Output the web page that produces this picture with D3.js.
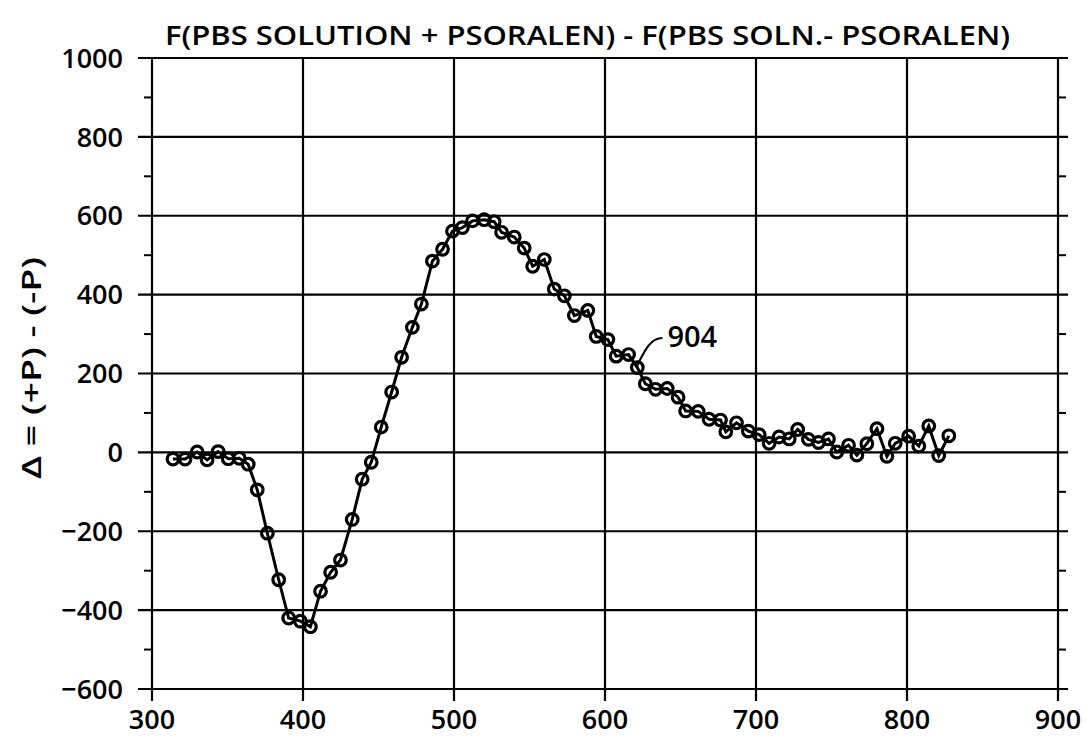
<!DOCTYPE html>
<html>
<head>
<meta charset="utf-8">
<script src="https://cdn.jsdelivr.net/npm/d3@7"></script>
<style>
  html, body { margin: 0; padding: 0; background: #fff; }
  text { font-family: "Open Sans", "DejaVu Sans", sans-serif; font-weight: 600; fill: #000; }
</style>
</head>
<body>
<svg id="chart" width="1086" height="746"></svg>
<script>
// ---- data ----
const wavelength = [313.9, 321.9, 329.9, 336.5, 343.8, 350.5, 357.8, 363.7, 369.7, 376.4,
  383.9, 390.5, 398.3, 404.9, 411.6, 418.3, 424.8, 432.6, 439.2, 445.2,
  451.8, 458.7, 465.3, 472.4, 478.4, 485.7, 492.4, 499.0, 505.6, 512.3,
  520.0, 526.6, 531.5, 539.9, 546.5, 552.1, 559.8, 566.4, 573.1, 579.7,
  588.6, 594.2, 601.9, 607.4, 615.6, 621.4, 626.7, 633.5, 641.2, 648.4,
  653.4, 661.7, 668.9, 676.5, 680.0, 687.1, 694.9, 702.1, 708.7, 715.3,
  722.0, 727.6, 734.7, 741.4, 748.0, 753.5, 761.3, 766.8, 773.4, 780.1,
  786.7, 792.2, 801.1, 807.8, 814.4, 821.0, 827.7];
const delta = [-17, -17, 1, -19, 2, -16, -15, -30, -95, -205,
  -323, -420, -428, -442, -352, -304, -273, -170, -68, -25,
  64, 153, 241, 317, 376, 485, 515, 561, 570, 587,
  590, 585, 558, 546, 518, 472, 489, 414, 397, 347,
  360, 294, 286, 244, 248, 215, 174, 160, 162, 140,
  105, 104, 84, 82, 52, 75, 54, 45, 23, 39,
  34, 58, 33, 25, 34, 1, 18, -7, 22, 60,
  -10, 23, 41, 16, 67, -8, 42];
const xTicks = [300, 400, 500, 600, 700, 800, 900];
const yTicks = [-600, -400, -200, 0, 200, 400, 600, 800, 1000];
const yMinor = [-500, -300, -100, 100, 300, 500, 700, 900];
const titleText = "F(PBS SOLUTION + PSORALEN) - F(PBS  SOLN.- PSORALEN)";
const yLabel = "\u0394 = (+P) - (-P)";
const annotation = { label: "904", x: 640, y: 266, fromX: 638, fromY: 290, toX: 621, toY: 218 };

// ---- chart ----
const svg = d3.select("#chart");
const x = d3.scaleLinear().domain([300, 900]).range([152, 1058]);
const y = d3.scaleLinear().domain([-600, 1000]).range([689, 58]);
const ink = "#000";

// grid
const g = svg.append("g");
g.selectAll("line.hg").data(yTicks).join("line")
  .attr("x1", x(300) - 14).attr("x2", x(900) + 10)
  .attr("y1", d => y(d)).attr("y2", d => y(d))
  .attr("stroke", ink).attr("stroke-width", 2.2);
g.selectAll("line.vg").data(xTicks).join("line")
  .attr("y1", y(1000)).attr("y2", y(-600) + 12)
  .attr("x1", d => x(d)).attr("x2", d => x(d))
  .attr("stroke", ink).attr("stroke-width", 2.2);
// minor ticks left and right
g.selectAll("line.ml").data(yMinor).join("line")
  .attr("x1", x(300) - 8).attr("x2", x(300))
  .attr("y1", d => y(d)).attr("y2", d => y(d))
  .attr("stroke", ink).attr("stroke-width", 2);
g.selectAll("line.mr").data(yMinor).join("line")
  .attr("x1", x(900)).attr("x2", x(900) + 8)
  .attr("y1", d => y(d)).attr("y2", d => y(d))
  .attr("stroke", ink).attr("stroke-width", 2);

// tick labels
svg.append("g").selectAll("text").data(yTicks).join("text")
  .attr("x", 123).attr("y", d => y(d)).attr("dy", "0.36em")
  .attr("text-anchor", "end").attr("font-size", 27)
  .text(d => d < 0 ? "\u2212" + Math.abs(d) : d);
svg.append("g").selectAll("text").data(xTicks).join("text")
  .attr("x", d => x(d)).attr("y", 729)
  .attr("text-anchor", "middle").attr("font-size", 27)
  .text(d => d);

// title
svg.append("text").attr("x", 165).attr("y", 45)
  .attr("font-size", 27)
  .attr("textLength", 845).attr("lengthAdjust", "spacingAndGlyphs")
  .text(titleText);

// y label
svg.append("text")
  .attr("transform", "translate(41,368) rotate(-90)")
  .attr("text-anchor", "middle").attr("font-size", 27)
  .attr("textLength", 222).attr("lengthAdjust", "spacingAndGlyphs")
  .text(yLabel);

// data line
const pts = wavelength.map((w, i) => [w, delta[i]]);
svg.append("path").datum(pts)
  .attr("fill", "none").attr("stroke", ink).attr("stroke-width", 3)
  .attr("d", d3.line().x(d => x(d[0])).y(d => y(d[1])));
svg.append("g").selectAll("circle").data(pts).join("circle")
  .attr("cx", d => x(d[0])).attr("cy", d => y(d[1])).attr("r", 5.8)
  .attr("fill", "none").attr("stroke", ink).attr("stroke-width", 3.2);

// annotation
const a = annotation;
svg.append("path")
  .attr("d", `M${x(a.fromX)},${y(a.fromY)} C${x(a.fromX) - 12},${y(a.fromY)} ${x(a.toX) + 8},${y(a.toY) - 16} ${x(a.toX)},${y(a.toY)}`)
  .attr("fill", "none").attr("stroke", ink).attr("stroke-width", 2.2);
svg.append("text").attr("x", x(a.x) + 2).attr("y", y(a.y))
  .attr("font-size", 29).text(a.label);
</script>
</body>
</html>
